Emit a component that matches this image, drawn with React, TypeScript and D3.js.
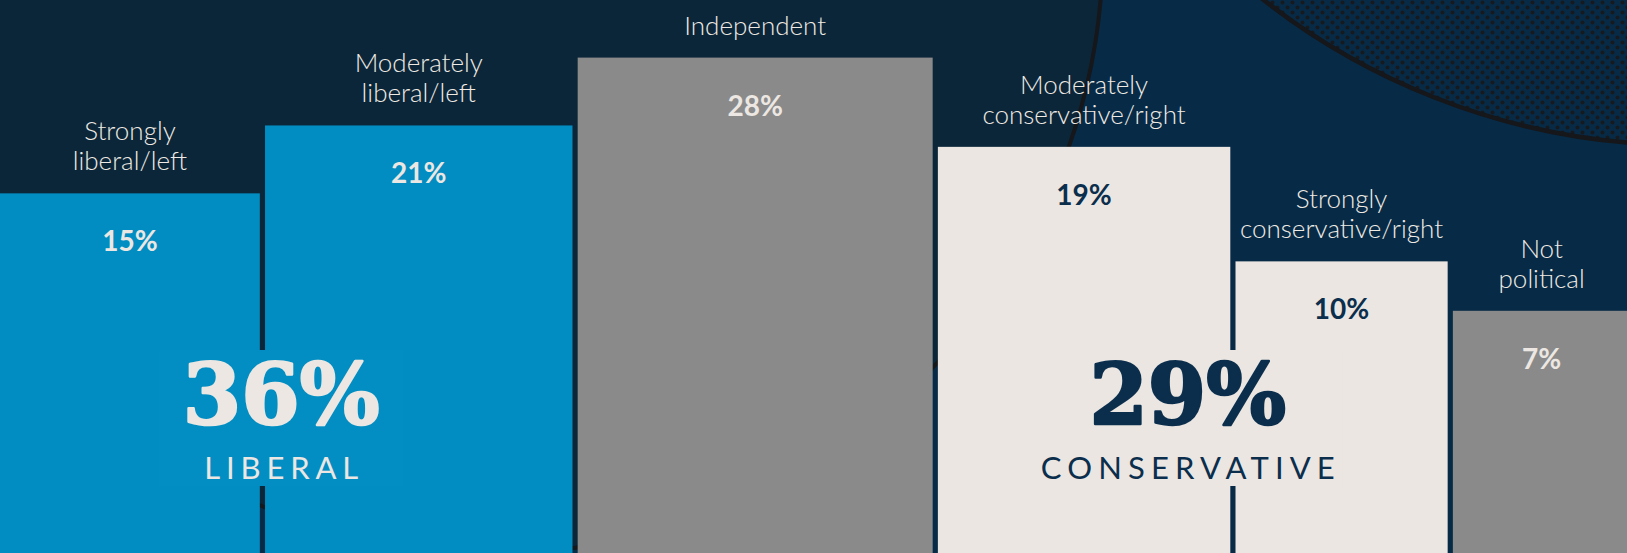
import React from "react";
import * as d3 from "d3";

// category labels (split into lines as printed)
const labelLines: string[][] = [
  ["Strongly", "liberal/left"],
  ["Moderately", "liberal/left"],
  ["Independent"],
  ["Moderately", "conservative/right"],
  ["Strongly", "conservative/right"],
  ["Not", "political"],
];
const values = [15, 21, 28, 19, 10, 7];
const groups = ["liberal", "liberal", "independent", "conservative", "conservative", "none"];

const summaryGroups = ["liberal", "conservative"];
const summaryValues = [36, 29];
const summaryLabels = ["LIBERAL", "CONSERVATIVE"];

const width = 1627;
const height = 553;
const baseline = 564;
const gap = 5.2;

const fillColor = d3.scaleOrdinal<string, string>()
  .domain(["liberal", "independent", "conservative", "none"])
  .range(["#018dc1", "#8a8a8a", "#ebe6e1", "#8a8a8a"]);
const valueColor = d3.scaleOrdinal<string, string>()
  .domain(["liberal", "independent", "conservative", "none"])
  .range(["#ece7e2", "#ece7e2", "#0b2e4d", "#ece7e2"]);

const sansFont = "Lato, 'Open Sans', sans-serif";
const serifFont = "'DejaVu Serif', 'Liberation Serif', serif";

export default function App() {
  const wScale = d3.scaleSqrt().domain([0, 28]).range([0, 355]);
  const hScale = d3.scaleSqrt().domain([0, 28]).range([0, 506.4]);

  let cursor = 0;
  const bars = values.map((v, i) => {
    const w = wScale(v);
    const b = { x: cursor, w, top: baseline - hScale(v), v, group: groups[i], lines: labelLines[i] };
    cursor += w + gap;
    return b;
  });

  const summaries = summaryGroups.map((g, i) => {
    const members = bars.filter(b => b.group === g);
    const x0 = d3.min(members, b => b.x) as number;
    const x1 = d3.max(members, b => b.x + b.w) as number;
    return { cx: (x0 + x1) / 2 - 5, group: g, value: summaryValues[i], label: summaryLabels[i] };
  });

  return (
    <svg width={width} height={height} style={{ position: "fixed", left: 0, top: 0, display: "block" }}>
      <defs>
        <pattern id="dots" width="10" height="10" patternUnits="userSpaceOnUse">
          <circle cx="2.5" cy="2.5" r="2" fill="#16191d" />
          <circle cx="7.5" cy="7.5" r="2" fill="#16191d" />
        </pattern>
      </defs>
      <rect width={width} height={height} fill="#072a46" />
      <circle cx={496} cy={-54} r={607} fill="#0c2639" stroke="#15171a" strokeWidth={4} />
      <circle cx={1685} cy={-539} r={684} fill="url(#dots)" stroke="#15171a" strokeWidth={4.5} />

      {bars.map((b, i) => (
        <g key={i}>
          <rect x={b.x} y={b.top} width={b.w} height={baseline - b.top} fill={fillColor(b.group)} />
          {b.lines.map((line, j) => (
            <text key={j} x={b.x + b.w / 2} y={b.top - 23 - (b.lines.length - 1 - j) * 30}
              textAnchor="middle" fill="#efeae4" fontFamily={sansFont} fontWeight={300} fontSize={26}>
              {line}
            </text>
          ))}
          <text x={b.x + b.w / 2} y={b.top + 58} textAnchor="middle" fill={valueColor(b.group)}
            fontFamily={sansFont} fontWeight={700} fontSize={28}>
            {b.v}%
          </text>
        </g>
      ))}

      {summaries.map((s, i) => {
        const boxW = s.group === "liberal" ? 245 : 310;
        return (
          <g key={i}>
            <rect x={s.cx - boxW / 2} y={350} width={boxW} height={136}
              fill={s.group === "liberal" ? "#028ec2" : "#ebe6e1"} />
            <text x={s.cx} y={424} textAnchor="middle" fill={valueColor(s.group)}
              stroke={valueColor(s.group)} strokeWidth={2.5} strokeLinejoin="round"
              fontFamily={serifFont} fontWeight={700} fontSize={84}>
              {s.value}%
            </text>
            <text x={s.cx} y={479} textAnchor="middle" fill={valueColor(s.group)}
              fontFamily={sansFont} fontWeight={400} fontSize={31}
              textLength={s.group === "liberal" ? 154 : 294} lengthAdjust="spacing">
              {s.label}
            </text>
          </g>
        );
      })}
    </svg>
  );
}
